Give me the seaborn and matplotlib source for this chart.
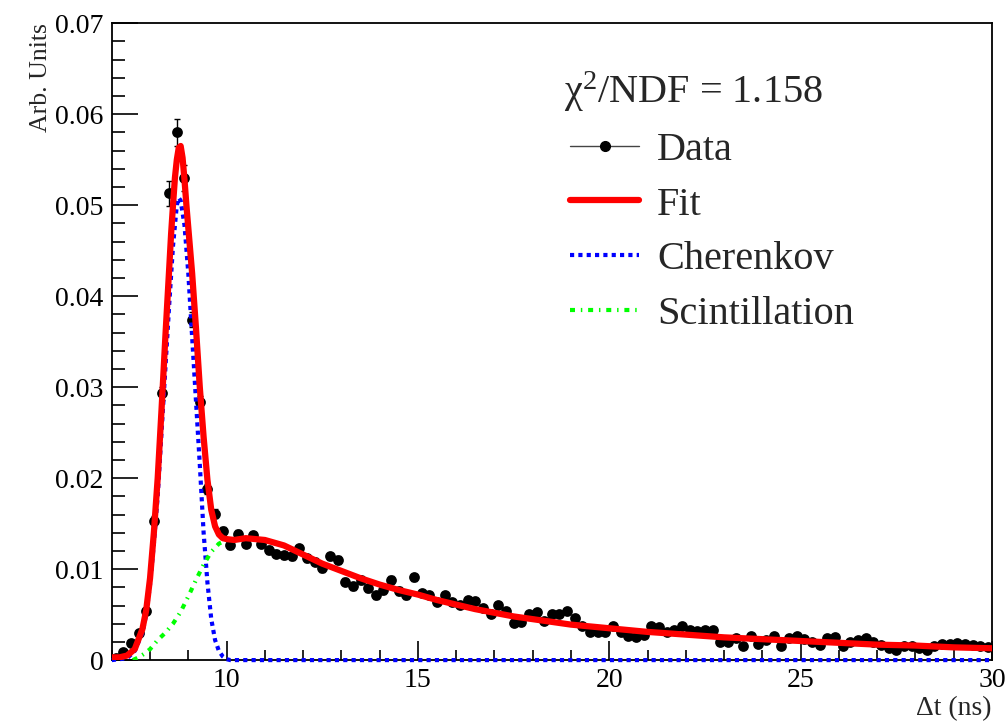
import numpy as np
import matplotlib
matplotlib.use('Agg')
import matplotlib.pyplot as plt
from matplotlib.lines import Line2D
from matplotlib.ticker import MultipleLocator, FuncFormatter
import seaborn as sns

bin_centers = np.round(np.arange(7.1, 30.0, 0.2), 2)
data_y = [0.0002, 0.0009, 0.0019, 0.0030, 0.0054, 0.0153, 0.0293, 0.0513, 0.0580, 0.0530,
          0.0374, 0.0284, 0.0188, 0.0161, 0.0142, 0.0126, 0.0139, 0.0128, 0.0137, 0.0128,
          0.0121, 0.0117, 0.0115, 0.0114, 0.0123, 0.0112, 0.0108, 0.0101, 0.0114, 0.0110,
          0.0086, 0.0081, 0.0088, 0.0079, 0.0071, 0.0077, 0.0088, 0.0076, 0.0071, 0.0091,
          0.0074, 0.0072, 0.0064, 0.0071, 0.0064, 0.0061, 0.0066, 0.0065, 0.0057, 0.0051,
          0.0061, 0.0054, 0.0041, 0.0042, 0.0051, 0.0053, 0.0043, 0.0051, 0.0051, 0.0054,
          0.0046, 0.0037, 0.0031, 0.0031, 0.0031, 0.0037, 0.0031, 0.0027, 0.0025, 0.0028,
          0.0037, 0.0036, 0.0031, 0.0033, 0.0037, 0.0033, 0.0032, 0.0033, 0.0033, 0.0020,
          0.0020, 0.0024, 0.0016, 0.0026, 0.0018, 0.0022, 0.0027, 0.0015, 0.0024, 0.0027,
          0.0023, 0.0020, 0.0017, 0.0024, 0.0025, 0.0016, 0.0020, 0.0022, 0.0024, 0.0020,
          0.0017, 0.0013, 0.0011, 0.0015, 0.0015, 0.0013, 0.0011, 0.0016, 0.0018, 0.0018,
          0.0019, 0.0018, 0.0017, 0.0016, 0.0014]
data_err = [0.0001, 0.0001, 0.0002, 0.0002, 0.0003, 0.0005, 0.0007, 0.0014, 0.0015, 0.0014,
            0.0008, 0.0006, 0.0005, 0.0005, 0.0004, 0.0004, 0.0004, 0.0004, 0.0004, 0.0004,
            0.0004, 0.0004, 0.0004, 0.0004, 0.0004, 0.0004, 0.0004, 0.0004, 0.0004, 0.0004,
            0.0004, 0.0004, 0.0004, 0.0004, 0.0004, 0.0004, 0.0004, 0.0004, 0.0004, 0.0004,
            0.0003, 0.0003, 0.0003, 0.0003, 0.0003, 0.0003, 0.0003, 0.0003, 0.0003, 0.0003,
            0.0003, 0.0003, 0.0003, 0.0003, 0.0003, 0.0003, 0.0003, 0.0003, 0.0003, 0.0003,
            0.0003, 0.0003, 0.0003, 0.0003, 0.0003, 0.0003, 0.0003, 0.0003, 0.0003, 0.0003,
            0.0003, 0.0003, 0.0003, 0.0003, 0.0003, 0.0003, 0.0003, 0.0003, 0.0003, 0.0003,
            0.0002, 0.0002, 0.0002, 0.0002, 0.0002, 0.0002, 0.0002, 0.0002, 0.0002, 0.0002,
            0.0002, 0.0002, 0.0002, 0.0002, 0.0002, 0.0002, 0.0002, 0.0002, 0.0002, 0.0002,
            0.0002, 0.0002, 0.0002, 0.0002, 0.0002, 0.0002, 0.0002, 0.0002, 0.0002, 0.0002,
            0.0002, 0.0002, 0.0002, 0.0002, 0.0002]

# slow tail shared by the total fit and the scintillation part (Cherenkov = 0 there)
tail_x = [10.5, 11.0, 11.5, 12.0, 12.5, 13.0, 13.5, 14.0, 14.5, 15.0, 15.5, 16.0, 16.5,
          17.0, 17.5, 18.0, 18.5, 19.0, 19.5, 20.0, 21.0, 22.0, 23.0, 24.0, 25.0, 26.0,
          27.0, 28.0, 29.0, 30.0]
tail_y = [0.0134, 0.0132, 0.0126, 0.0116, 0.0106, 0.0098, 0.0090, 0.0083, 0.0077, 0.0072,
          0.0066, 0.0061, 0.0056, 0.0052, 0.0048, 0.0045, 0.0042, 0.0039, 0.0037, 0.0035,
          0.0031, 0.0028, 0.0025, 0.0023, 0.0021, 0.0019, 0.0017, 0.0016, 0.0014, 0.0013]

fit_x = [7.0, 7.2, 7.4, 7.6, 7.8, 7.9, 8.0, 8.1, 8.2, 8.3, 8.4, 8.5, 8.55, 8.6, 8.65, 8.7,
         8.75, 8.8, 8.85, 8.9, 8.95, 9.0, 9.05, 9.1, 9.15, 9.2, 9.3, 9.4, 9.5, 9.6, 9.7,
         9.8, 9.9, 10.0, 10.2] + tail_x
fit_y = [0.0003, 0.0003, 0.0005, 0.0012, 0.0034, 0.0055, 0.0090, 0.0140, 0.0200, 0.0275,
         0.0355, 0.0430, 0.0468, 0.0500, 0.0530, 0.0550, 0.0563, 0.0565, 0.0552, 0.0528,
         0.0500, 0.0475, 0.0450, 0.0425, 0.0395, 0.0365, 0.0300, 0.0245, 0.0198, 0.0165,
         0.0147, 0.0138, 0.0134, 0.0133, 0.0132] + tail_y

cher_x = [7.0, 7.4, 7.6, 7.8, 7.9, 8.0, 8.1, 8.2, 8.3, 8.4, 8.5, 8.6, 8.7, 8.75, 8.8, 8.9,
          9.0, 9.1, 9.2, 9.3, 9.4, 9.5, 9.6, 9.7, 9.8, 9.9, 10.0, 10.1, 30.0]
cher_y = [0.0, 0.0002, 0.0010, 0.0030, 0.0050, 0.0083, 0.0128, 0.0180, 0.0250, 0.0320,
          0.0390, 0.0455, 0.0500, 0.0508, 0.0505, 0.0478, 0.0425, 0.0355, 0.0285, 0.0215,
          0.0140, 0.0085, 0.0045, 0.0022, 0.0010, 0.0004, 0.0001, 0.0, 0.0]

scint_x = [7.55, 7.7, 7.85, 8.0, 8.2, 8.4, 8.6, 8.8, 9.0, 9.2, 9.4, 9.6, 9.8, 10.0] + tail_x
scint_y = [0.0, 0.0003, 0.0007, 0.0012, 0.0022, 0.0030, 0.0040, 0.0053, 0.0070, 0.0088,
           0.0105, 0.0119, 0.0128, 0.0132] + tail_y

chi2_text = r'χ$^{2}$/NDF = 1.158'
legend_labels = ['Data', 'Fit', 'Cherenkov', 'Scintillation']

sns.set_style('ticks')
plt.rcParams['font.family'] = ['Liberation Serif', 'DejaVu Serif']
plt.rcParams['mathtext.fontset'] = 'custom'
plt.rcParams['mathtext.rm'] = 'Liberation Serif'
plt.rcParams['mathtext.it'] = 'Liberation Serif:italic'

fig = plt.figure(figsize=(10.07, 7.23), dpi=100)
ax = fig.add_axes([0.111, 0.087, 0.874, 0.881])

# data with error bars
ax.errorbar(bin_centers, data_y, yerr=data_err, fmt='none', ecolor='black',
            elinewidth=1, capsize=2, zorder=1)
sns.scatterplot(x=bin_centers, y=data_y, color='black', edgecolor='black', s=60,
                linewidth=0, ax=ax, zorder=1.5)

# fit components
blue_style = (0, (1, 1))
green_style = (0, (1.2, 1.4, 0.35, 1.4))
sns.lineplot(x=cher_x, y=cher_y, color='#0000ff', linewidth=3, linestyle=blue_style,
             ax=ax, zorder=3, clip_on=False, sort=False, estimator=None)
sns.lineplot(x=scint_x, y=scint_y, color='#00ff00', linewidth=3, linestyle=green_style,
             ax=ax, zorder=3.1, sort=False, estimator=None)
sns.lineplot(x=fit_x, y=fit_y, color='#ff0000', linewidth=4.5, ax=ax, zorder=4,
             sort=False, estimator=None)

ax.set_xlim(7, 30)
ax.set_ylim(0, 0.07)

ax.xaxis.set_major_locator(MultipleLocator(5))
ax.xaxis.set_minor_locator(MultipleLocator(1))
ax.yaxis.set_major_locator(MultipleLocator(0.01))
ax.yaxis.set_minor_locator(MultipleLocator(0.002))
ax.yaxis.set_major_formatter(FuncFormatter(lambda v, p: '0' if abs(v) < 1e-9 else f'{v:.2f}'))

ax.tick_params(axis='both', which='both', direction='in', top=False, right=False,
               labelsize=20, colors='black')
ax.tick_params(axis='y', which='major', length=19, width=1.2, pad=6)
ax.tick_params(axis='y', which='minor', length=9.5, width=1.2)
ax.tick_params(axis='x', which='major', length=14, width=1.2, pad=6)
ax.tick_params(axis='x', which='minor', length=7, width=1.2)
for sp in ax.spines.values():
    sp.set_visible(True)
    sp.set_linewidth(1.3)
    sp.set_color('black')

ax.set_xlabel('Δt (ns)', fontsize=20, loc='right', labelpad=2)
ax.set_ylabel('Arb. Units', fontsize=18.5, loc='top', labelpad=2)

ax.text(0.514, 0.874, chi2_text, transform=ax.transAxes, fontsize=29,
        ha='left', va='baseline')

handles = [
    Line2D([], [], color='#444444', linewidth=1, marker='o', markersize=7,
           markerfacecolor='black', markeredgecolor='black'),
    Line2D([], [], color='#ff0000', linewidth=4.5),
    Line2D([], [], color='#0000ff', linewidth=3, linestyle=blue_style),
    Line2D([], [], color='#00ff00', linewidth=3, linestyle=green_style),
]
ax.legend(handles, legend_labels, loc='upper left', bbox_to_anchor=(0.521, 0.83),
          frameon=False, fontsize=29, handlelength=1.7, handletextpad=0.45,
          labelspacing=0.44, borderpad=0, borderaxespad=0, numpoints=1)

fig.savefig('out.png', dpi=100, facecolor='white')
